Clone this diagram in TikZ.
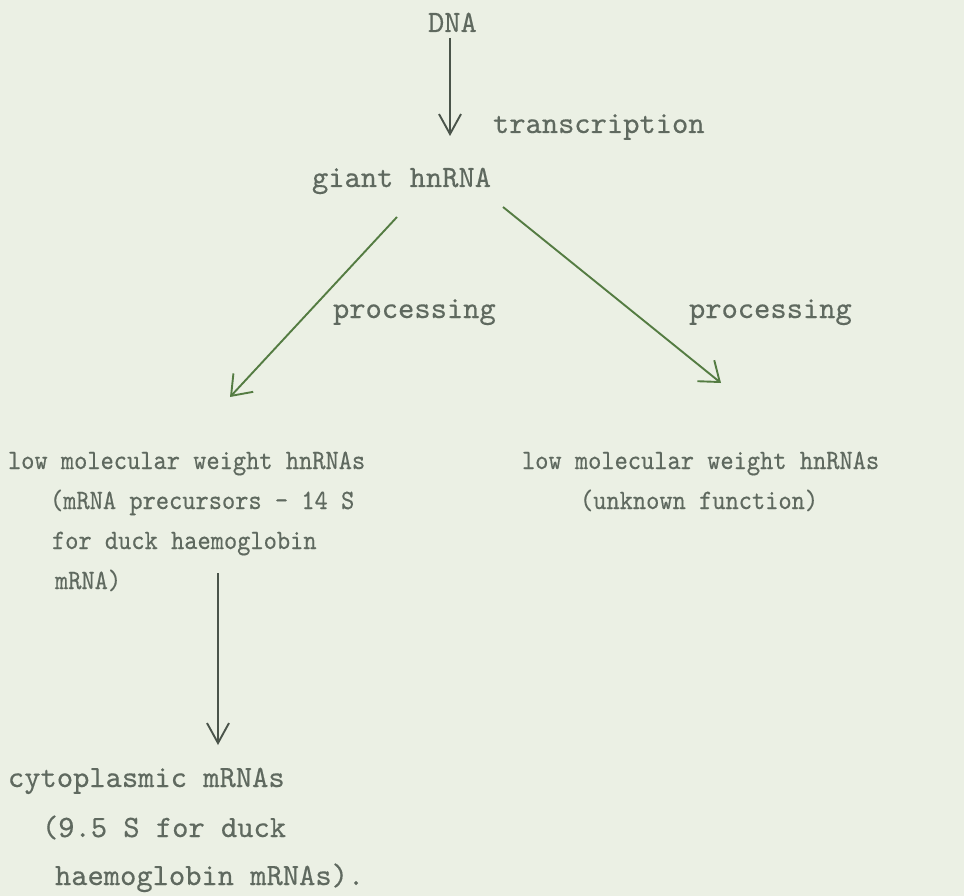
\documentclass[tikz,border=0pt]{standalone}
\usepackage{fontspec}
\usetikzlibrary{arrows.meta}
\newfontfamily\twfont{lmmono10-regular}[Extension=.otf, FakeBold=0.4]
\newfontfamily\twcond{lmmono10-regular}[Extension=.otf, FakeBold=0.4, FakeStretch=0.9]
\definecolor{paper}{RGB}{235,240,228}
\definecolor{ink}{RGB}{95,105,95}
\definecolor{greenline}{RGB}{84,124,66}
\definecolor{grayline}{RGB}{74,84,74}
\begin{document}
\begin{tikzpicture}[x=1pt,y=-1pt,
  lab/.style={anchor=base west, inner sep=0pt, outer sep=0pt, text=ink,
    font=\twfont\fontsize{31}{37}\selectfont},
  cond/.style={anchor=base west, inner sep=0pt, outer sep=0pt, text=ink,
    font=\twcond\fontsize{28}{34}\selectfont},
  vline/.style={draw=grayline, line width=1.9pt,
    -{Straight Barb[length=20pt,width=22pt,line width=1.9pt]}},
  dline/.style={draw=greenline, line width=1.9pt,
    -{Straight Barb[length=18pt,width=27pt,line width=1.9pt]}}]
\useasboundingbox[fill=paper] (0,0) rectangle (964,896);

% top
\node[lab] (dna) at (428,32) {DNA};
\node[lab] (trans) at (493,133) {transcription};
\node[lab] (giant) at (312,187) {giant hnRNA};
\node[lab] (procL) at (333,318) {processing};
\node[lab] (procR) at (689,318) {processing};

% middle (condensed typing)
\node[cond] (lowL) at (8,469) {low molecular weight hnRNAs};
\node[cond] (precA) at (50,509) {(mRNA precursors - 14 S};
\node[cond] (precB) at (52,549) {for duck haemoglobin};
\node[cond] (precC) at (55,589) {mRNA)};
\node[cond] (lowR) at (522,469) {low molecular weight hnRNAs};
\node[cond] (unk) at (580,509) {(unknown function)};

% bottom
\node[lab] (cyto) at (8,787) {cytoplasmic mRNAs};
\node[lab] (cytoB) at (42,837) {(9.5 S for duck};
\node[lab] (cytoC) at (55,885) {haemoglobin mRNAs).};

% connector end points
\coordinate (a1s) at (450,38);
\coordinate (a1e) at (450,136);
\coordinate (a2s) at (397,217);
\coordinate (a2e) at (230,397);
\coordinate (a3s) at (503,207);
\coordinate (a3e) at (721,383);
\coordinate (a4s) at (218,573);
\coordinate (a4e) at (218,745);

\draw[vline] (a1s) -- (a1e);
\draw[dline] (a2s) -- (a2e);
\draw[dline] (a3s) -- (a3e);
\draw[vline] (a4s) -- (a4e);
\end{tikzpicture}
\end{document}
